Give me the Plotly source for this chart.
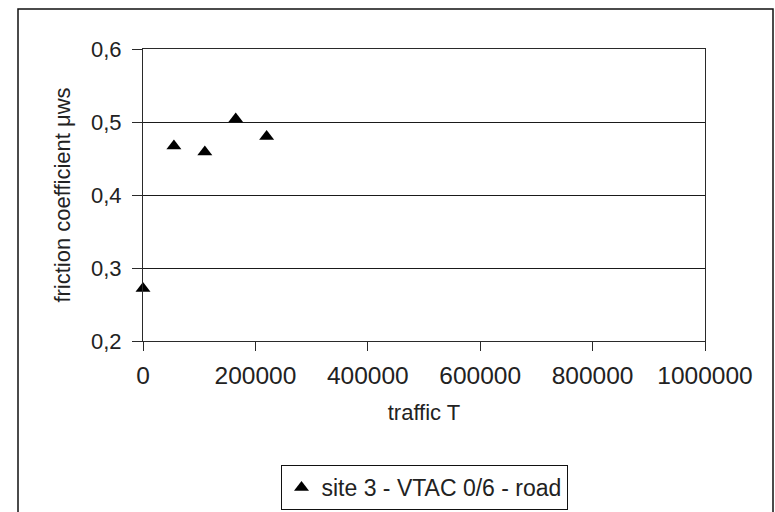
import plotly.graph_objects as go

# ---- data ----
traffic = [0, 55000, 110000, 165000, 220000]
friction = [0.272, 0.467, 0.459, 0.504, 0.480]
series_name = "site 3 - VTAC 0/6 - road"

x_ticks = [0, 200000, 400000, 600000, 800000, 1000000]
x_tick_labels = ["0", "200000", "400000", "600000", "800000", "1000000"]
y_ticks = [0.2, 0.3, 0.4, 0.5, 0.6]
y_tick_labels = ["0,2", "0,3", "0,4", "0,5", "0,6"]

x_title = "traffic T"
y_title = "friction coefficient μws"

FONT = "Liberation Sans, Arial, sans-serif"
INK = "#2a2a2a"

fig = go.Figure()
fig.add_trace(go.Scatter(
    x=traffic, y=friction, mode="markers", name=series_name,
    marker=dict(symbol="triangle-up", size=13, color="black"),
    cliponaxis=False, showlegend=True,
))

W, H = 775, 512
L, R, T, B = 143, 70, 49, 171
pw, ph = W - L - R, H - T - B

def px_x(p):
    return (p - L) / pw

def px_y(p):
    return (H - B - p) / ph

fig.update_layout(
    width=W, height=H,
    margin=dict(l=L, r=R, t=T, b=B, autoexpand=False),
    paper_bgcolor="white", plot_bgcolor="white",
    font=dict(family=FONT, size=22, color="#222"),
    showlegend=True,
    legend=dict(
        x=0.5, xanchor="center", y=px_y(465), yanchor="top",
        bordercolor="#111", borderwidth=1, bgcolor="white",
        font=dict(size=23, color="#222"),
        itemwidth=30,
    ),
    xaxis=dict(
        range=[0, 1000000], tickvals=x_ticks, ticktext=x_tick_labels,
        showgrid=False, zeroline=False, automargin=False,
        showline=True, linecolor=INK, linewidth=1, mirror=True,
        ticks="outside", ticklen=9, tickcolor=INK, tickwidth=1,
        tickfont=dict(size=24.5), ticklabelstandoff=4,
        title=dict(text=x_title, font=dict(size=22), standoff=16),
    ),
    yaxis=dict(
        range=[0.2, 0.6], tickvals=y_ticks, ticktext=y_tick_labels,
        showgrid=True, gridcolor="#1a1a1a", gridwidth=1, zeroline=False,
        automargin=False,
        showline=True, linecolor=INK, linewidth=1, mirror=True,
        ticks="outside", ticklen=10, tickcolor=INK, tickwidth=1,
        tickfont=dict(size=22), ticklabelstandoff=6,
        title=dict(text=y_title, font=dict(size=22), standoff=14),
    ),
    shapes=[dict(
        type="rect", xref="paper", yref="paper",
        x0=px_x(18), x1=px_x(773), y0=px_y(530), y1=px_y(9),
        line=dict(color="#111", width=1.5), fillcolor="rgba(0,0,0,0)",
        layer="below",
    )],
)

fig.write_html(
    "out.html",
    config={"displayModeBar": False},
    post_script="document.body.style.margin='0px';document.body.style.overflow='hidden';",
)
